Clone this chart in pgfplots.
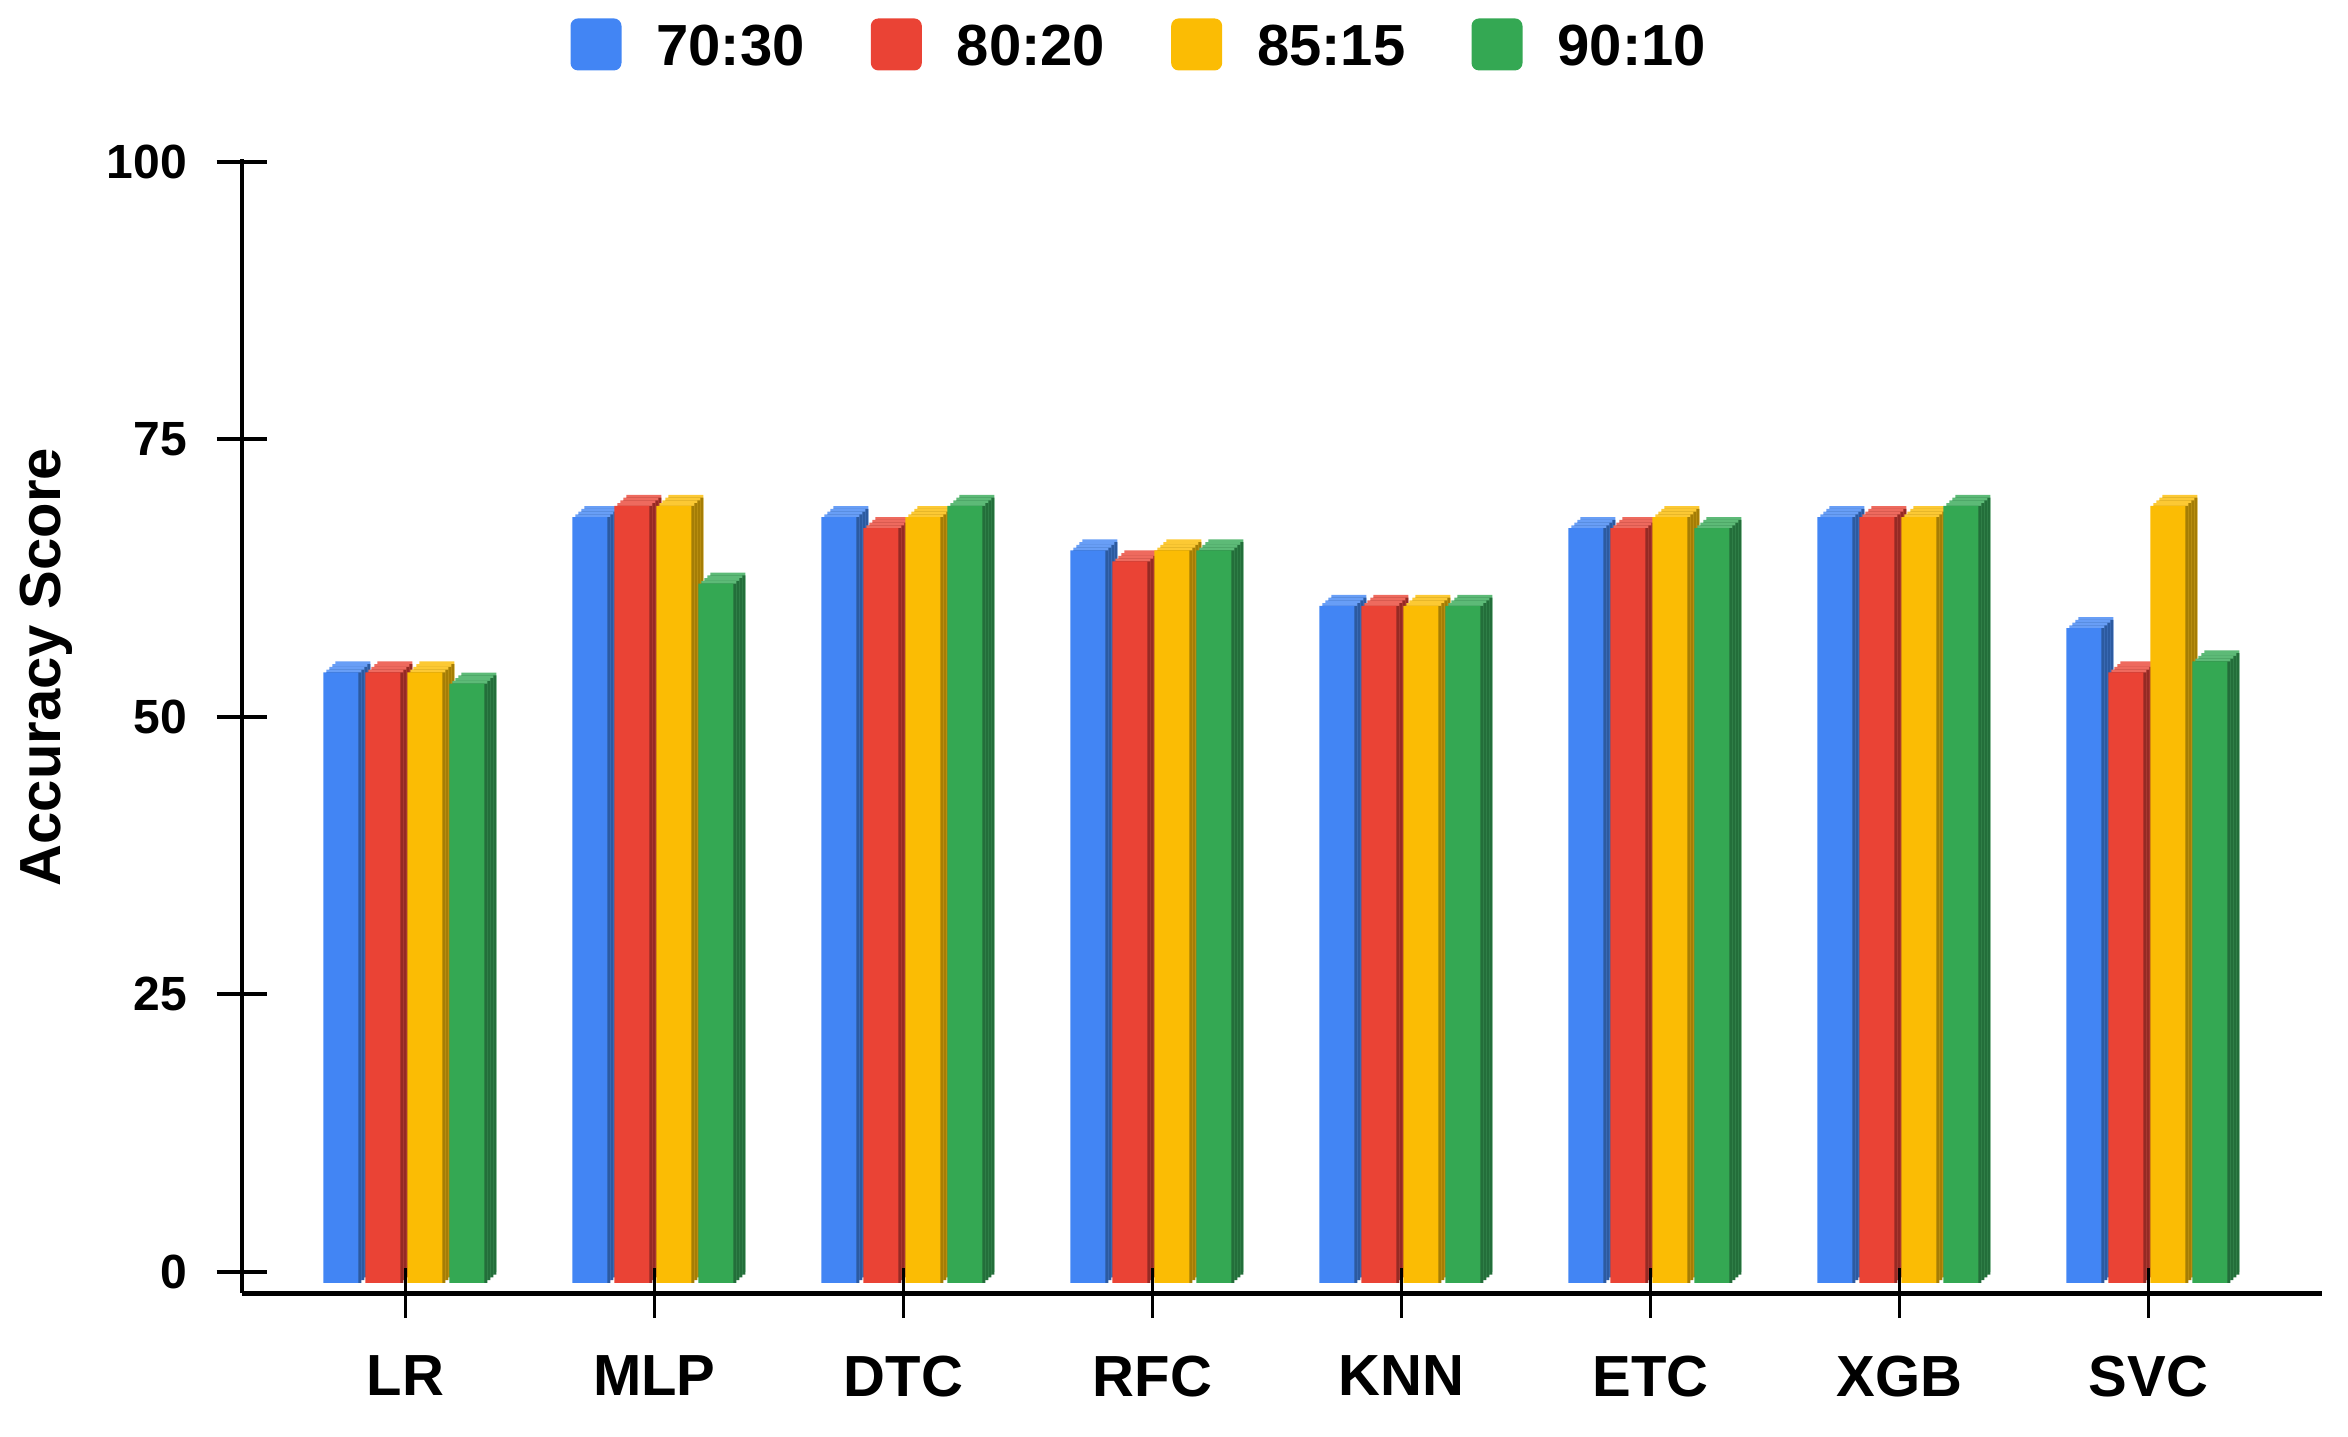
\documentclass[border=0pt]{standalone}
\usepackage{pgfplots}
\pgfplotsset{compat=1.18}
\usepackage{pgfplotstable}
\usepackage{fontspec}
\setmainfont{Liberation Sans}

% face, cap and side colours of the four splits
\definecolor{cA}{HTML}{4285F4}\definecolor{cAtop}{HTML}{689EF6}\definecolor{cAside}{HTML}{2C5AA0}
\definecolor{cB}{HTML}{EA4335}\definecolor{cBtop}{HTML}{EE6A5E}\definecolor{cBside}{HTML}{952A24}
\definecolor{cC}{HTML}{FBBC04}\definecolor{cCtop}{HTML}{FCC934}\definecolor{cCside}{HTML}{A57D05}
\definecolor{cD}{HTML}{34A853}\definecolor{cDtop}{HTML}{5DBA77}\definecolor{cDside}{HTML}{236E3A}

\pgfplotstableread{
x a  b  c  d
0 55 55 55 54
1 69 70 70 63
2 69 68 69 70
3 66 65 66 66
4 61 61 61 61
5 68 68 69 68
6 69 69 69 70
7 59 55 70 56
}\acc

\pgfplotsset{
  base/.style={width=416pt, height=226.8pt, scale only axis,
    xmin=-0.657, xmax=7.696, ymin=-1.9, ymax=100.27},
  bar/.style={ybar, bar width=7pt, draw=none},
}

% one slice of the four bars of every group: #1 colour suffix, #2-#5 bar shifts
\newcommand\slice[5]{%
  \addplot[bar, fill=cA#1, bar shift=#2] table[x=x,y=a]{\acc};
  \addplot[bar, fill=cB#1, bar shift=#3] table[x=x,y=b]{\acc};
  \addplot[bar, fill=cC#1, bar shift=#4] table[x=x,y=c]{\acc};
  \addplot[bar, fill=cD#1, bar shift=#5] table[x=x,y=d]{\acc};}

\begin{document}
\begin{tikzpicture}
\useasboundingbox (-48.34pt,-28.6pt) rectangle (421.26pt,258.6pt);

% 3D bars, drawn from the back slice to the front face
\begin{axis}[base, hide axis]
  \slice{top}{-10.5pt}{-2.1pt}{6.3pt}{14.7pt}
\end{axis}
\begin{axis}[base, hide axis, at={(0pt,-0.55pt)}]
  \slice{side}{-10.5pt}{-2.1pt}{6.3pt}{14.7pt}
  \slice{top}{-11.1pt}{-2.7pt}{5.7pt}{14.1pt}
\end{axis}
\begin{axis}[base, hide axis, at={(0pt,-1.1pt)}]
  \slice{side}{-11.1pt}{-2.7pt}{5.7pt}{14.1pt}
  \slice{top}{-11.7pt}{-3.3pt}{5.1pt}{13.5pt}
\end{axis}
\begin{axis}[base, hide axis, at={(0pt,-1.65pt)}]
  \slice{side}{-11.7pt}{-3.3pt}{5.1pt}{13.5pt}
  \slice{top}{-12.3pt}{-3.9pt}{4.5pt}{12.9pt}
\end{axis}
\begin{axis}[base, hide axis, at={(0pt,-2.2pt)}]
  \slice{side}{-12.3pt}{-3.9pt}{4.5pt}{12.9pt}
  \slice{}{-12.9pt}{-4.5pt}{3.9pt}{12.3pt}
\end{axis}

% axes, ticks, labels and legend on top
\begin{axis}[base,
  axis x line=bottom, axis y line=left, axis line style={-},
  x axis line style={line width=1pt}, y axis line style={line width=0.8pt},
  xtick={0,...,7}, xticklabels={LR,MLP,DTC,RFC,KNN,ETC,XGB,SVC},
  ytick={0,25,50,75,100},
  tick align=center, major tick length=10pt,
  xtick style={line width=0.6pt, black}, ytick style={line width=0.8pt, black},
  /pgf/number format/assume math mode=true,
  yticklabel style={font=\fontsize{9.6}{11}\selectfont\bfseries, xshift=-2.4pt},
  xticklabel style={font=\fontsize{11.6}{13}\selectfont\bfseries, yshift=-4pt},
  ylabel={Accuracy Score},
  every axis y label/.style={at={(axis description cs:-0.0938,0.552)}, rotate=90, anchor=center,
    font=\fontsize{11.6}{13}\selectfont\bfseries},
  legend columns=4,
  legend image code/.code={\fill[#1, rounded corners=1.5pt] (0pt,-4.2pt) rectangle (10.2pt,6.2pt);},
  legend style={at={(axis description cs:0.431,1.0997)}, anchor=center, draw=none, fill=none,
    font=\fontsize{11.6}{13}\selectfont\bfseries, nodes={inner sep=0pt},
    /tikz/every odd column/.style={column sep=7pt},
    /tikz/every even column/.style={column sep=13.2pt}},
]
  \addlegendimage{fill=cA, draw=none}\addlegendentry{70:30}
  \addlegendimage{fill=cB, draw=none}\addlegendentry{80:20}
  \addlegendimage{fill=cC, draw=none}\addlegendentry{85:15}
  \addlegendimage{fill=cD, draw=none}\addlegendentry{90:10}
\end{axis}
\end{tikzpicture}
\end{document}
